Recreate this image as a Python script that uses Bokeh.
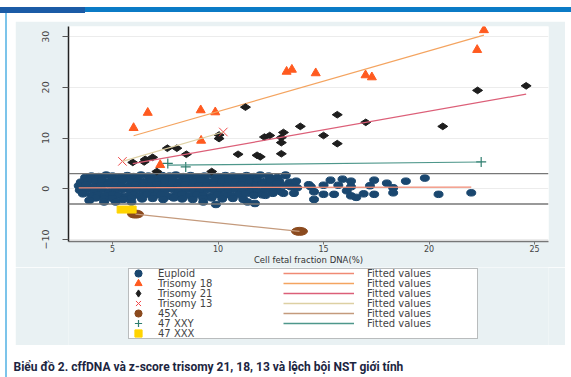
import numpy as np
from math import pi
from bokeh.plotting import figure
from bokeh.layouts import column, row
from bokeh.models import (Range1d, FixedTicker, Label, Legend, LegendItem, Span, Spacer,
                          BoxAnnotation)
from bokeh.embed import file_html
from bokeh.resources import INLINE

# ---------------- data ----------------
x_ticks = [5, 10, 15, 20, 25]
y_ticks = [-10, 0, 10, 20, 30]
cutoffs = [3, -3]

eu_x = [
    3.7, 4.0, 4.35, 4.7, 5.0, 5.35, 5.7, 6.0, 6.35, 6.7, 7.0, 7.35, 7.7, 8.0, 8.35,
    8.7, 9.0, 9.35, 9.7, 10.0, 10.35, 10.7, 11.0, 11.35, 11.7, 12.0, 12.4, 12.8, 13.2,
    3.5, 3.85, 4.2, 4.5, 4.85, 5.2, 5.5, 5.85, 6.2, 6.5, 6.85, 7.2, 7.5, 7.85, 8.2,
    8.5, 8.85, 9.2, 9.5, 9.85, 10.2, 10.5, 10.85, 11.2, 11.5, 11.85, 12.2, 12.5, 12.9, 13.4,
    3.4, 3.75, 4.1, 4.45, 4.8, 5.1, 5.45, 5.8, 6.1, 6.45, 6.8, 7.1, 7.45, 7.8, 8.1, 8.45,
    8.8, 9.1, 9.45, 9.8, 10.1, 10.45, 10.8, 11.1, 11.45, 11.8, 12.1, 12.45, 12.8, 13.2, 13.6,
    3.45, 3.8, 4.15, 4.5, 4.85, 5.15, 5.5, 5.85, 6.15, 6.5, 6.85, 7.15, 7.5, 7.85, 8.15,
    8.5, 8.85, 9.15, 9.5, 9.85, 10.15, 10.5, 10.85, 11.15, 11.5, 11.85, 12.2, 12.6, 13.0,
    3.6, 4.0, 4.3, 4.65, 5.0, 5.3, 5.65, 6.0, 6.3, 6.65, 7.0, 7.3, 7.65, 8.0, 8.3, 8.65,
    9.0, 9.3, 9.65, 10.0, 10.3, 10.65, 11.0, 11.3, 11.7, 12.1,
    4.2, 4.6, 5.0, 5.5, 5.9, 6.4, 6.9, 7.4, 7.9, 8.3, 8.8, 9.3, 9.7, 10.2, 10.7, 11.2,
    3.9, 4.6, 5.15, 5.9, 9.3, 9.9, 11.4, 11.75,
    13.2, 13.7, 13.75, 13.45, 13.6, 13.1, 12.6, 12.25, 12.8, 14.3, 14.4, 14.55, 14.55,
    15.0, 15.0, 15.33, 15.5, 15.7, 15.9, 16.1, 16.3, 16.3, 16.3, 16.55, 16.9, 17.2,
    17.4, 17.4, 18.0, 18.3, 18.3, 18.9, 19.8, 20.45, 22.0,
]
eu_y = [
    2.2, 2.5, 2.4, 2.7, 2.5, 2.3, 2.6, 2.4, 2.7, 2.5, 2.3, 2.6, 2.5, 2.7, 2.4,
    2.6, 2.3, 2.5, 2.7, 2.4, 2.6, 2.5, 2.3, 2.6, 2.4, 2.7, 2.5, 2.2, 2.6,
    1.3, 1.6, 1.5, 1.7, 1.4, 1.6, 1.8, 1.5, 1.6, 1.4, 1.7, 1.5, 1.6, 1.8, 1.4,
    1.6, 1.5, 1.7, 1.4, 1.6, 1.5, 1.8, 1.4, 1.6, 1.5, 1.7, 1.4, 1.6, 1.5, 1.3,
    0.6, 0.8, 0.5, 0.7, 0.9, 0.6, 0.7, 0.5, 0.8, 0.6, 0.7, 0.9, 0.5, 0.7, 0.6, 0.8,
    0.5, 0.7, 0.6, 0.9, 0.5, 0.7, 0.6, 0.8, 0.5, 0.7, 0.9, 0.6, 0.4, 0.7, 0.5,
    -0.3, -0.1, -0.4, -0.2, -0.5, -0.3, -0.1, -0.4, -0.2, -0.3, -0.5, -0.2, -0.3, -0.1, -0.4,
    -0.2, -0.3, -0.5, -0.2, -0.4, -0.1, -0.3, -0.2, -0.4, -0.3, -0.5, -0.2, -0.4, -0.6,
    -1.0, -1.3, -1.2, -1.4, -1.1, -1.3, -1.5, -1.2, -1.4, -1.1, -1.3, -1.2, -1.5, -1.3, -1.1, -1.4,
    -1.2, -1.3, -1.5, -1.1, -1.3, -1.4, -1.2, -1.0, -1.3, -1.2,
    -1.8, -2.0, -1.9, -2.1, -1.8, -2.0, -1.9, -2.1, -1.8, -2.0, -2.1, -1.9, -1.8, -2.0, -1.9, -2.1,
    -2.3, -2.6, -2.6, -2.6, -2.6, -3.1, -2.6, -2.9,
    2.7, 1.5, 0.2, 0.4, -0.9, -0.9, -0.9, -1.3, 1.1, 0.8, 0.4, -0.6, -2.1,
    0.7, -1.1, 1.7, -1.1, 0.7, 1.9, -0.4, 0.4, 1.5, -1.4, -1.7, -1.0, 0.6,
    1.7, -1.1, 1.1, 0.2, -0.8, 1.5, 2.1, -1.1, -0.8,
]

t18_x = [6.0, 6.67, 7.26, 9.18, 9.2, 9.87, 13.25, 13.5, 14.63, 16.99, 17.29, 22.28, 22.6]
t18_y = [12.0, 15.0, 4.7, 15.5, 9.5, 15.1, 23.1, 23.5, 22.8, 22.4, 22.0, 27.4, 31.3]

t21_x = [5.96, 6.5, 6.55, 6.9, 7.1, 7.6, 8.05, 8.5, 9.7, 10.05, 10.05, 10.95, 11.3, 11.85,
         12.0, 12.2, 12.45, 13.0, 13.0, 13.0, 13.1, 13.9, 15.0, 15.65, 15.65, 17.0,
         20.65, 22.3, 24.6]
t21_y = [5.2, 5.3, 5.8, 6.2, 3.4, 8.0, 8.0, 6.8, 3.4, 10.6, 9.9, 6.8, 16.1, 6.6,
         6.3, 10.2, 10.5, 6.9, 10.1, 9.1, 11.1, 12.3, 10.5, 14.6, 8.9, 13.1,
         12.3, 19.4, 20.3]

t13_x = [5.47, 10.25]
t13_y = [5.4, 11.2]

x45_x = [6.09, 13.86]
x45_y = [-5.0, -8.4]

xxy_x = [7.62, 8.47, 22.47]
xxy_y = [5.0, 4.3, 5.3]

xxx_x = [5.67]
xxx_y = [-4.1]

marker_labels = ["Euploid", "Trisomy 18", "Trisomy 21", "Trisomy 13", "45X", "47 XXY", "47 XXX"]
fit_label = "Fitted values"
caption = "Biểu đồ 2. cffDNA và z-score trisomy 21, 18, 13 và lệch bội NST giới tính"
x_title = "Cell fetal fraction DNA(%)"

# ---------------- styles ----------------
PANEL = "#e9f1f3"
C_EU, C_T18, C_T21, C_T13 = "#1a476f", "#ff5a1f", "#1e1e1e", "#f04848"
C_45, C_XXY, C_XXX = "#8b4a1e", "#2e7d6e", "#ffd400"
F_EU, F_T18, F_T21, F_T13, F_45, F_XXY = ("#f08a74", "#f4a460", "#dc5f78", "#ddd0a3",
                                         "#c49a7c", "#4e978b")
FONT = "DejaVu Sans"
BORDERS = dict(min_border_left=53, min_border_right=17)


def fitted(xs, ys):
    b, a = np.polyfit(xs, ys, 1)
    xx = [min(xs), max(xs)]
    return xx, [a + b * v for v in xx]


fits = {k: fitted(xs, ys) for k, xs, ys in [("eu", eu_x, eu_y), ("t18", t18_x, t18_y),
                                            ("t21", t21_x, t21_y), ("t13", t13_x, t13_y),
                                            ("45", x45_x, x45_y), ("xxy", xxy_x, xxy_y)]}

# ---------------- main plot ----------------
p = figure(width=550, height=246, output_backend="svg", toolbar_location=None,
           x_range=Range1d(2.915, 25.66), y_range=Range1d(-10.4, 32.0),
           min_border_top=5, min_border_bottom=22, background_fill_color="white",
           border_fill_color=PANEL, outline_line_color=None, **BORDERS)

p.xgrid.visible = False
p.ygrid.ticker = FixedTicker(ticks=y_ticks)
p.ygrid.grid_line_color = "#ececec"

for c in cutoffs:
    p.add_layout(Span(location=c, dimension="width", line_color="#777777", line_width=1.3))

p.xaxis.ticker = FixedTicker(ticks=x_ticks)
p.yaxis.ticker = FixedTicker(ticks=y_ticks)
p.xaxis.axis_label = x_title
p.xaxis.axis_label_text_font_style = "normal"
p.xaxis.axis_label_text_font = FONT
p.xaxis.axis_label_text_font_size = "8.5px"
p.xaxis.axis_label_text_color = "#333333"
p.xaxis.axis_label_standoff = 0
for ax in (p.xaxis, p.yaxis):
    ax.major_label_text_font = FONT
    ax.major_label_text_color = "#444444"
    ax.minor_tick_line_color = None
    ax.major_tick_in = 0
p.xaxis.major_label_text_font_size = "8px"
p.yaxis.major_label_text_font_size = "9.5px"
p.xaxis.major_tick_out = 3
p.xaxis.major_label_standoff = 0
p.xaxis.axis_line_color = "#777777"
p.xaxis.major_tick_line_color = "#777777"
p.xaxis.axis_line_width = 1.5
p.yaxis.major_tick_out = 6
p.yaxis.major_label_standoff = 13
p.yaxis.major_label_orientation = "vertical"
p.yaxis.axis_line_color = "#222222"
p.yaxis.axis_line_width = 1.5
p.yaxis.major_tick_line_color = "#555555"

p.ellipse(x=eu_x, y=eu_y, width=9, height=6.5, width_units="screen",
          height_units="screen", fill_color=C_EU, line_color=C_EU)
p.line(*fits["eu"], line_color=F_EU, line_width=1.3)
p.scatter(t18_x, t18_y, marker="triangle", size=9, fill_color=C_T18, line_color=C_T18)
p.line(*fits["t18"], line_color=F_T18, line_width=1.2)
p.scatter(t21_x, t21_y, marker="diamond", size=10, angle=pi / 2,
          fill_color=C_T21, line_color=C_T21)
p.line(*fits["t21"], line_color=F_T21, line_width=1.2)
p.scatter(t13_x, t13_y, marker="x", size=12, line_color=C_T13, line_width=1)
p.line(*fits["t13"], line_color=F_T13, line_width=1.2)
p.ellipse(x=x45_x, y=x45_y, width=16, height=8, width_units="screen",
          height_units="screen", fill_color=C_45, line_color=C_45)
p.line(*fits["45"], line_color=F_45, line_width=1.2)
p.scatter(xxy_x, xxy_y, marker="cross", size=10, line_color=C_XXY, line_width=1.2)
p.line(*fits["xxy"], line_color=F_XXY, line_width=1.2)
p.rect(x=xxx_x, y=xxx_y, width=19, height=7, width_units="screen",
       height_units="screen", fill_color=C_XXX, line_color=C_XXX)

# ---------------- legend panel ----------------
lg = figure(width=550, height=78, output_backend="svg", toolbar_location=None,
            x_range=Range1d(1000, 1001), y_range=Range1d(1000, 1001),
            x_axis_location=None, y_axis_location=None,
            min_border_top=0, min_border_bottom=0, background_fill_color=PANEL,
            border_fill_color=PANEL, outline_line_color=None, **BORDERS)
lg.grid.visible = False
lg.add_layout(BoxAnnotation(left=60, right=409, top=77, bottom=7, left_units="screen",
                            right_units="screen", top_units="screen",
                            bottom_units="screen", fill_color="white", fill_alpha=1,
                            line_color="#333333", line_width=1, level="underlay"))
m_rs = [
    lg.scatter(eu_x, eu_y, marker="circle", fill_color=C_EU, line_color=C_EU),
    lg.scatter(t18_x, t18_y, marker="triangle", fill_color=C_T18, line_color=C_T18),
    lg.scatter(t21_x, t21_y, marker="diamond", fill_color=C_T21, line_color=C_T21),
    lg.scatter(t13_x, t13_y, marker="x", line_color=C_T13, line_width=1),
    lg.scatter(x45_x, x45_y, marker="circle", fill_color=C_45, line_color=C_45),
    lg.scatter(xxy_x, xxy_y, marker="cross", line_color=C_XXY, line_width=1.2),
    lg.scatter(xxx_x, xxx_y, marker="square", fill_color=C_XXX, line_color=C_XXX),
]
f_rs = [lg.line(*fits[k], line_color=c, line_width=1.3) for k, c in
        [("eu", F_EU), ("t18", F_T18), ("t21", F_T21), ("t13", F_T13), ("45", F_45),
         ("xxy", F_XXY)]]
common = dict(padding=0, margin=0, spacing=0, glyph_height=18, label_height=10,
              label_text_font=FONT, label_text_font_size="10px",
              border_line_color=None, background_fill_alpha=0)
ROW0, PITCH = 63, 10   # bottom of first one-row legend (screen px above frame bottom)
for i, (lab, r) in enumerate(zip(marker_labels, m_rs)):
    lg.add_layout(Legend(items=[LegendItem(label=lab, renderers=[r])],
                         location=(60, ROW0 - PITCH * i), glyph_width=20,
                         label_standoff=10, **common))
for i, r in enumerate(f_rs):
    lg.add_layout(Legend(items=[LegendItem(label=fit_label, renderers=[r])],
                         location=(215, ROW0 - PITCH * i), glyph_width=71,
                         label_standoff=13, **common))

# ---------------- caption ----------------
cap = figure(width=563, height=32, output_backend="svg", toolbar_location=None,
             x_range=Range1d(0, 1), y_range=Range1d(0, 1),
             x_axis_location=None, y_axis_location=None, min_border=0,
             background_fill_color="white", border_fill_color="white",
             outline_line_color=None)
cap.grid.visible = False
cap.add_layout(Label(x=5, y=11, x_units="screen", y_units="screen", text=caption,
                     text_baseline="middle", text_font="Roboto",
                     text_font_style="bold", text_font_size="12px", text_color="#1c2541"))

page_bg = ("linear-gradient(#1b5ba6,#1b5ba6) 0px 7px / 85px 6px no-repeat, "
           "linear-gradient(#0b7bc6,#0b7bc6) 85px 7px / 486px 5px no-repeat, "
           "linear-gradient(#7cc4ea,#7cc4ea) 5px 12px / 2px 365px no-repeat, white")
layout = column(
    Spacer(width=571, height=21),
    row(Spacer(width=15, height=324), column(p, lg, spacing=0), spacing=0),
    row(Spacer(width=8, height=32), cap, spacing=0),
    spacing=0, styles={"background": page_bg},
)

open("out.html", "w").write(file_html(layout, INLINE))
